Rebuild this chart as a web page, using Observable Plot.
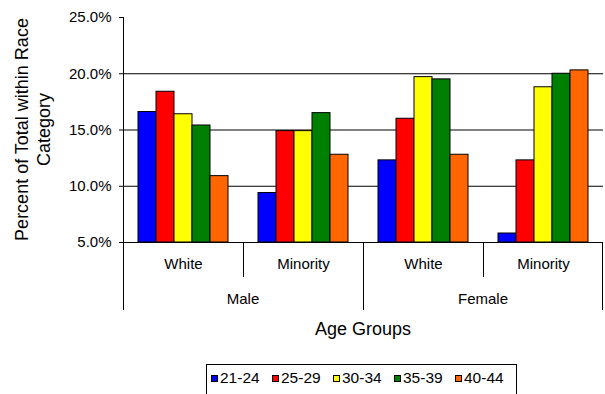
<!DOCTYPE html>
<html>
<head>
<meta charset="utf-8">
<script src="https://cdn.jsdelivr.net/npm/d3@7"></script>
<script src="https://cdn.jsdelivr.net/npm/@observablehq/plot@0.6"></script>
<style>
  body { margin: 0; background: #fff; font-family: "Liberation Sans", Arial, sans-serif; }
  #wrap { position: relative; width: 605px; height: 394px; overflow: hidden; background: #fff; }
  #legend {
    position: absolute; left: 206px; top: 364px; width: 311px; height: 40px;
    box-sizing: border-box; border: 1px solid #000;
    display: flex; align-items: center;
    padding: 0 0 12px 4px; font-size: 15.5px; color: #000;
  }
  #legend .item { display: flex; align-items: center; width: 61px; flex: none; }
  #legend .sw { width: 7px; height: 7px; box-sizing: border-box; border: 1px solid #000; margin-right: 2px; }
</style>
</head>
<body>
<div id="wrap"><div id="legend"></div></div>
<script>
// Age bands (bar series) and their colours
const ageBands = ["21-24", "25-29", "30-34", "35-39", "40-44"];
const colors = ["#0000ff", "#ff0000", "#ffff00", "#008000", "#ff6600"];

// Category levels on the horizontal axis
const genders = ["Male", "Female"];
const races = ["White", "Minority"];

// Percent of total within race category, by age band
const maleWhite = [16.6, 18.4, 16.4, 15.4, 10.9];
const maleMinority = [9.4, 14.9, 14.9, 16.5, 12.8];
const femaleWhite = [12.3, 16.0, 19.7, 19.5, 12.8];
const femaleMinority = [5.8, 12.3, 18.8, 20.0, 20.3];

// Value axis
const yTicks = [5, 10, 15, 20, 25];
const gridValues = [10, 15, 20];
const yMin = 5, yMax = 25;

const seriesByGroup = [maleWhite, maleMinority, femaleWhite, femaleMinority];
const groups = [];
for (const g of genders) for (const r of races) groups.push({key: g + " " + r, gender: g, race: r});
const raceOf = Object.fromEntries(groups.map(d => [d.key, d.race]));

const rows = groups.flatMap((g, gi) =>
  ageBands.map((a, i) => ({group: g.key, gender: g.gender, race: g.race, age: a, value: seriesByGroup[gi][i]}))
);

const chart = Plot.plot({
  width: 605,
  height: 360,
  marginTop: 17,
  marginRight: 1,
  marginBottom: 118,
  marginLeft: 121,
  style: {fontFamily: '"Liberation Sans", Arial, sans-serif', fontSize: "15px", color: "#000", background: "#fff", overflow: "visible"},
  fx: {domain: groups.map(d => d.key), padding: 0, label: null},
  x: {domain: ageBands, paddingInner: 0, paddingOuter: 0.75, axis: null},
  y: {domain: [yMin, yMax], label: null},
  color: {domain: ageBands, range: colors},
  marks: [
    Plot.ruleY(gridValues, {stroke: "#000"}),
    Plot.barY(rows, {fx: "group", x: "age", y1: yMin, y2: "value", fill: "age", stroke: "#000", strokeWidth: 1}),
    Plot.ruleY([yMin], {stroke: "#000"}),
    Plot.axisY({ticks: yTicks, tickFormat: d => d.toFixed(1) + "%", tickSize: 4, tickPadding: 8, label: null, fontSize: 15}),
    Plot.axisFx({anchor: "bottom", tickSize: 0, tickPadding: 16, tickFormat: k => raceOf[k], label: null, fontSize: 15})
  ]
});

document.getElementById("wrap").prepend(chart);

// Axis line, category separators, gender labels and titles, placed with the chart's own scales
const svg = d3.select(chart);
const fx = chart.scale("fx");
const y = chart.scale("y");
const y0 = y.apply(yMin);
const yTop = y.apply(yMax);
const keys = groups.map(d => d.key);
const edge = i => (i < keys.length ? fx.apply(keys[i]) : fx.apply(keys[keys.length - 1]) + fx.bandwidth);

const deco = svg.append("g").attr("stroke", "#000").attr("fill", "none");
deco.append("line").attr("x1", edge(0) + 0.5).attr("x2", edge(0) + 0.5).attr("y1", yTop).attr("y2", y0);
for (let i = 0; i <= keys.length; i++) {
  const outer = i === 0 || i === keys.length || groups[i].gender !== groups[i - 1].gender;
  const x = Math.round(edge(i)) + (i === keys.length ? -0.5 : 0.5);
  deco.append("line").attr("x1", x).attr("x2", x).attr("y1", y0).attr("y2", y0 + (outer ? 68 : 35));
}

const labels = svg.append("g").attr("fill", "#000").attr("font-family", '"Liberation Sans", Arial, sans-serif');
for (const g of genders) {
  const idx = groups.map((d, i) => (d.gender === g ? i : -1)).filter(i => i >= 0);
  const cx = (edge(idx[0]) + edge(idx[idx.length - 1] + 1)) / 2;
  labels.append("text").attr("x", cx).attr("y", y0 + 56).attr("text-anchor", "middle")
    .attr("dominant-baseline", "central").attr("font-size", 15).text(g);
}
labels.append("text").attr("x", (edge(0) + edge(keys.length)) / 2).attr("y", y0 + 87)
  .attr("text-anchor", "middle").attr("dominant-baseline", "central").attr("font-size", 18).text("Age Groups");

const titleY = (yTop + y0) / 2;
[["Percent of Total within Race", 22], ["Category", 44]].forEach(([t, x]) => {
  labels.append("text").attr("transform", `translate(${x},${titleY}) rotate(-90)`)
    .attr("text-anchor", "middle").attr("dominant-baseline", "central").attr("font-size", 18).text(t);
});

// Legend
const legend = d3.select("#legend");
ageBands.forEach((a, i) => {
  const item = legend.append("div").attr("class", "item");
  item.append("div").attr("class", "sw").style("background", colors[i]);
  item.append("span").text(a);
});
</script>
</body>
</html>
